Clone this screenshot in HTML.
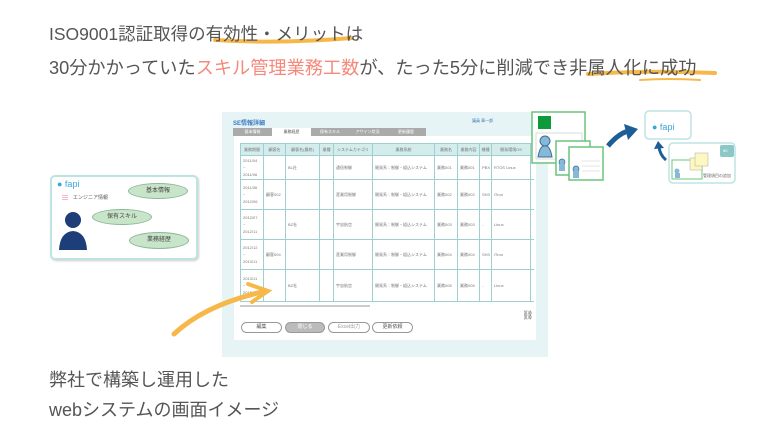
<!DOCTYPE html>
<html><head><meta charset="utf-8"><style>
*{margin:0;padding:0;box-sizing:border-box}
body{width:768px;height:435px;background:#fff;position:relative;overflow:hidden;font-family:"Liberation Sans","Noto Sans CJK JP",sans-serif;color:#555}
.t{position:absolute;left:49px;font-size:18px;white-space:nowrap;color:#555}
.a{position:absolute}
table{border-collapse:collapse;font-size:4px;color:#777;table-layout:fixed}
td{border:1px solid #9fd0d0;padding:1px 2px;vertical-align:middle;white-space:nowrap;overflow:hidden;line-height:7px}
th{background:#d3ecec;border:1px solid #9fd0d0;font-weight:normal;height:12px;font-size:4px;white-space:nowrap;overflow:hidden}
.btn{position:absolute;top:322px;height:11px;border:1px solid #999;border-radius:6px;font-size:5px;text-align:center;line-height:9px;background:#fff}
.tab{position:absolute;top:128px;height:8px;background:#aaa;font-size:4px;color:#fff;text-align:center;line-height:8px}
.ell{position:absolute;background:#c9e5c9;border:1px solid #8cb89a;border-radius:50%;font-size:6px;text-align:center;color:#444}
</style></head><body>
<svg class="a" style="left:0;top:0" width="768" height="435">
<path d="M215 40 Q280 44 352 38" stroke="#f7b84a" stroke-width="4" fill="none" stroke-linecap="round"/>
<path d="M588 74 Q650 70 715 73" stroke="#f7b84a" stroke-width="4" fill="none" stroke-linecap="round"/>
<path d="M640 80 Q670 78 700 80" stroke="#f7b84a" stroke-width="2" fill="none" stroke-linecap="round"/>
</svg>
<div class="t" style="top:21px;font-size:17.5px">ISO9001認証取得の有効性・メリットは</div>
<div class="t" style="top:54px;font-size:18.2px">30分かかっていた<span style="color:#f58a7c">スキル管理業務工数</span>が、たった5分に削減でき非属人化に成功</div>
<div class="t" style="top:366px">弊社で構築し運用した</div>
<div class="t" style="top:396px">webシステムの画面イメージ</div>

<div class="a" style="left:50px;top:175px;width:148px;height:85px;border:2px solid #bde3e3;border-radius:5px;background:#fff;box-shadow:1px 1px 2px #ccc"></div>
<div class="a" style="left:57px;top:179px;font-size:9px;color:#3aa6d6">● fapi</div>
<div class="a" style="left:62px;top:195px;width:6px;height:6px;background:repeating-linear-gradient(#f8b8c8 0 1px,#fff 1px 2px)"></div>
<div class="a" style="left:73px;top:194px;font-size:5px;color:#555">エンジニア情報</div>
<svg class="a" style="left:58px;top:210px" width="30" height="40"><circle cx="15" cy="10" r="8" fill="#1e3e7a"/><path d="M1 40 Q2 22 15 21 Q28 22 29 40Z" fill="#1e3e7a"/></svg>
<div class="ell" style="left:128px;top:183px;width:60px;height:16px;line-height:14px">基本情報</div>
<div class="ell" style="left:92px;top:209px;width:60px;height:16px;line-height:14px">保有スキル</div>
<div class="ell" style="left:129px;top:232px;width:60px;height:17px;line-height:15px">業務経歴</div>

<div class="a" style="left:222px;top:112px;width:326px;height:245px;background:#e6f4f5"></div>
<div class="a" style="left:233px;top:118px;font-size:6px;color:#3a7ac0;font-weight:bold">SE情報詳細</div>
<div class="a" style="left:472px;top:118px;font-size:4px;color:#3a7ac0">議員 章一郎</div>
<div class="tab" style="left:233px;width:39px">基本情報</div>
<div class="tab" style="left:272px;width:39px;background:#fff;color:#555">業務経歴</div>
<div class="tab" style="left:311px;width:38px">保有スキル</div>
<div class="tab" style="left:349px;width:37px">アサイン状況</div>
<div class="tab" style="left:386px;width:40px">更新履歴</div>
<div class="a" style="left:234px;top:136px;width:302px;height:204px;background:#fff"></div>
<div class="a" style="left:240px;top:143px;width:294px;height:160px;overflow:hidden">
<table style="width:310px">
<colgroup><col style="width:23px"><col style="width:22px"><col style="width:34px"><col style="width:14px"><col style="width:39px"><col style="width:62px"><col style="width:23px"><col style="width:22px"><col style="width:12px"><col style="width:39px"><col style="width:20px"></colgroup>
<tr><th>業務期間</th><th>顧客名</th><th>顧客名(最終)</th><th>業種</th><th>システムカテゴリ</th><th>業務系統</th><th>業務名</th><th>業務内容</th><th>機種</th><th>開発環境OS</th><th>実行</th></tr>
<tr style="height:24px"><td>2011/04<br>~<br>2011/06</td><td></td><td>BL社</td><td></td><td>通信制御</td><td>開発系：制御・組込システム</td><td>業務001</td><td>業務001</td><td>PBX</td><td>RTOS Linux</td><td></td></tr>
<tr style="height:30px"><td>2011/06<br>~<br>2012/06</td><td>顧客002</td><td></td><td></td><td>産業用制御</td><td>開発系：制御・組込システム</td><td>業務002</td><td>業務002</td><td>SH3</td><td>iTron</td><td></td></tr>
<tr style="height:30px"><td>2012/07<br>~<br>2012/11</td><td></td><td>BZ社</td><td></td><td>宇宙航空</td><td>開発系：制御・組込システム</td><td>業務003</td><td>業務003</td><td>-</td><td>Linux</td><td></td></tr>
<tr style="height:30px"><td>2012/12<br>~<br>2013/11</td><td>顧客004</td><td></td><td></td><td>産業用制御</td><td>開発系：制御・組込システム</td><td>業務004</td><td>業務004</td><td>SH3</td><td>iTron</td><td></td></tr>
<tr style="height:32px"><td>2013/11<br>~<br>2015/03</td><td></td><td>BZ社</td><td></td><td>宇宙航空</td><td>開発系：制御・組込システム</td><td>業務005</td><td>業務005</td><td>-</td><td>Linux</td><td></td></tr>
</table></div>
<div class="a" style="left:240px;top:305px;width:130px;height:2px;background:#ccc"></div>
<div class="btn" style="left:241px;width:41px">編集</div>
<div class="btn" style="left:285px;width:40px;background:#bbb;color:#fff">閉じる</div>
<div class="btn" style="left:328px;width:42px;color:#999">Excel出力</div>
<div class="btn" style="left:372px;width:41px">更新依頼</div>
<div class="a" style="left:522px;top:310px;font-size:9px;color:#666">⛓</div>

<svg class="a" style="left:0;top:0" width="768" height="435">
<path d="M174 334 Q205 305 262 292" stroke="#f7b84a" stroke-width="5" fill="none" stroke-linecap="round"/>
<path d="M248 284 L268 291 L252 302" stroke="#f7b84a" stroke-width="4" fill="none" stroke-linecap="round"/>
</svg>

<svg class="a" style="left:0;top:0" width="768" height="435">
<rect x="532" y="112" width="53" height="51" fill="#fff" stroke="#6cc47c" stroke-width="1.5"/>
<rect x="538" y="116" width="13" height="13" fill="#0f9a3a"/>
<rect x="536" y="133" width="46" height="26" fill="none" stroke="#ccc" stroke-width="0.7"/>
<circle cx="545" cy="141" r="5" fill="#88b8d8" stroke="#3b6e9a"/><path d="M538 157 Q540 145 545 146 Q550 145 552 157Z" fill="#88b8d8" stroke="#3b6e9a"/>
<rect x="556" y="141" width="34" height="34" fill="#fff" stroke="#6cc47c" stroke-width="1.5"/>
<circle cx="562" cy="162" r="3" fill="#88b8d8" stroke="#3b6e9a" stroke-width="0.7"/><rect x="559" y="164" width="6" height="7" fill="#88b8d8"/>
<rect x="569" y="147" width="34" height="33" fill="#fff" stroke="#6cc47c" stroke-width="1.5"/>
<circle cx="576" cy="169" r="3" fill="#88b8d8" stroke="#3b6e9a" stroke-width="0.7"/><rect x="573" y="171" width="6" height="7" fill="#88b8d8"/>
<line x1="582" y1="161" x2="600" y2="161" stroke="#ccc" stroke-width="0.6"/><line x1="582" y1="166" x2="600" y2="166" stroke="#ccc" stroke-width="0.6"/><line x1="582" y1="171" x2="600" y2="171" stroke="#ccc" stroke-width="0.6"/>
<path d="M608 146 Q618 134 628 131" stroke="#1d5e96" stroke-width="5" fill="none"/>
<path d="M624 124 L638 129 L628 140Z" fill="#1d5e96"/>
<rect x="645" y="111" width="46" height="28" rx="4" fill="#fff" stroke="#bde3e3" stroke-width="1.5"/>
<text x="652" y="130" font-size="9" fill="#3aa6d6" font-family="Liberation Sans">● fapi</text>
<path d="M666 160 Q660 155 659 147" stroke="#1d5e96" stroke-width="3" fill="none"/>
<path d="M654 149 L658 141 L664 148Z" fill="#1d5e96"/>
<rect x="669" y="143" width="66" height="40" rx="4" fill="#fff" stroke="#bde3e3" stroke-width="1.5"/>
<rect x="720" y="145" width="14" height="12" rx="2" fill="#8cc8c8"/>
<text x="723" y="152" font-size="4" fill="#fff">¥0</text>
<rect x="672" y="160" width="30" height="19" fill="#fff" stroke="#6cc47c" stroke-width="1"/>
<circle cx="677" cy="171" r="2.5" fill="#88b8d8"/><rect x="675" y="173" width="5" height="5" fill="#88b8d8"/>
<rect x="690" y="158" width="12" height="12" fill="#fdf8c0" stroke="#aaa" stroke-width="0.5"/>
<rect x="695" y="153" width="13" height="13" fill="#fdf8c0" stroke="#aaa" stroke-width="0.5"/>
<text x="703" y="177" font-size="4" fill="#666" font-family="Noto Sans CJK JP">管理項目の追加</text>
</svg>
</body></html>
